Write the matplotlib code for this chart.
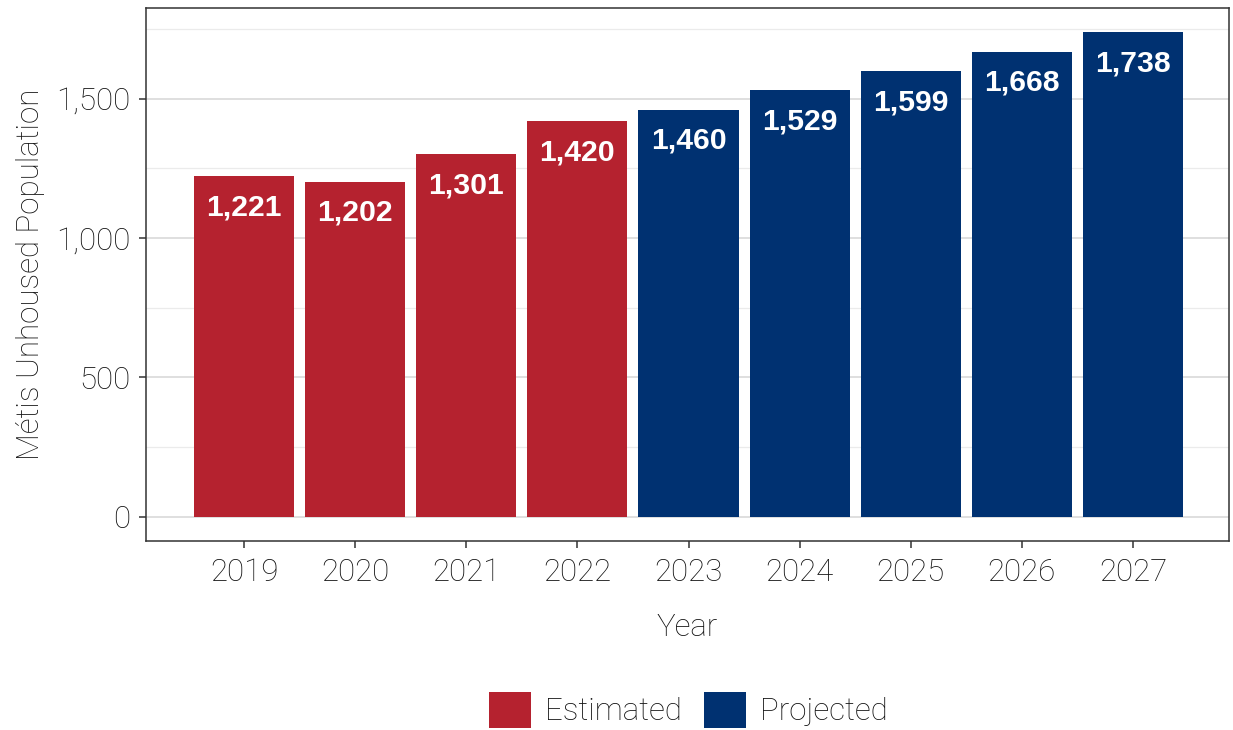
import matplotlib
matplotlib.use("Agg")
import matplotlib.pyplot as plt
from matplotlib.patches import Patch

# -----------------------------
# Data
# -----------------------------
years = ["2019", "2020", "2021", "2022", "2023", "2024", "2025", "2026", "2027"]
values = [1221, 1202, 1301, 1420, 1460, 1529, 1599, 1668, 1738]
status = ["Estimated"] * 4 + ["Projected"] * 5

COLORS = {"Estimated": "#B5222F", "Projected": "#003171"}

plt.rcParams["font.family"] = ["Roboto", "DejaVu Sans"]
TXT = "#111111"
FS = 22.5

W, H = 1233, 730
fig = plt.figure(figsize=(W / 100, H / 100), dpi=100)
ax = fig.add_axes([146 / W, (H - 541) / H, 1083 / W, 533 / H])

# -----------------------------
# Bars + labels
# -----------------------------
pos = list(range(1, len(years) + 1))
ax.bar(pos, values, width=0.9, color=[COLORS[s] for s in status], zorder=2)

for x, v in zip(pos, values):
    ax.annotate(f"{v:,}", (x, v), xytext=(0, -22.5), textcoords="offset points",
                ha="center", va="center", color="white", fontsize=21.7,
                fontweight="bold", family="Liberation Sans", zorder=3)

# -----------------------------
# Axes styling
# -----------------------------
ax.set_xlim(1 - 98 / 111.1, 9 + 96 / 111.1)
ax.set_ylim(-86.9, 1824.9)
ax.set_xticks(pos)
ax.set_xticklabels(years)
ax.set_yticks([0, 500, 1000, 1500])
ax.set_yticklabels(["0", "500", "1,000", "1,500"])
ax.set_yticks([250, 750, 1250, 1750], minor=True)
ax.tick_params(axis="y", which="minor", length=0)

ax.grid(axis="y", which="major", color="#dcdcdc", linewidth=1.3, zorder=0)
ax.grid(axis="y", which="minor", color="#ebebeb", linewidth=0.9, zorder=0)
ax.set_axisbelow(True)

ax.tick_params(axis="both", which="major", length=5, width=1.1, color="#333333",
               labelsize=FS, labelcolor=TXT)
ax.tick_params(axis="x", pad=7)
ax.tick_params(axis="y", pad=6)
for lab in ax.get_xticklabels() + ax.get_yticklabels():
    lab.set_fontweight("light")
for sp in ax.spines.values():
    sp.set_color("#333333")
    sp.set_linewidth(1.1)

ax.set_xlabel("Year", fontsize=FS, fontweight="light", color=TXT, labelpad=19)
ax.set_ylabel("Métis Unhoused Population", fontsize=FS, fontweight="light",
              color=TXT, labelpad=8.5)

# -----------------------------
# Legend
# -----------------------------
handles = [Patch(facecolor=COLORS[k], edgecolor="none") for k in COLORS]
leg = fig.legend(handles, list(COLORS), loc="center", ncol=2,
                 bbox_to_anchor=(688 / W, 1 - 710 / H), frameon=False,
                 handlelength=1.35, handleheight=1.35, handletextpad=0.45,
                 columnspacing=0.7, prop={"size": FS, "weight": "light"})
for t in leg.get_texts():
    t.set_color(TXT)

fig.savefig("out.png", dpi=100)
